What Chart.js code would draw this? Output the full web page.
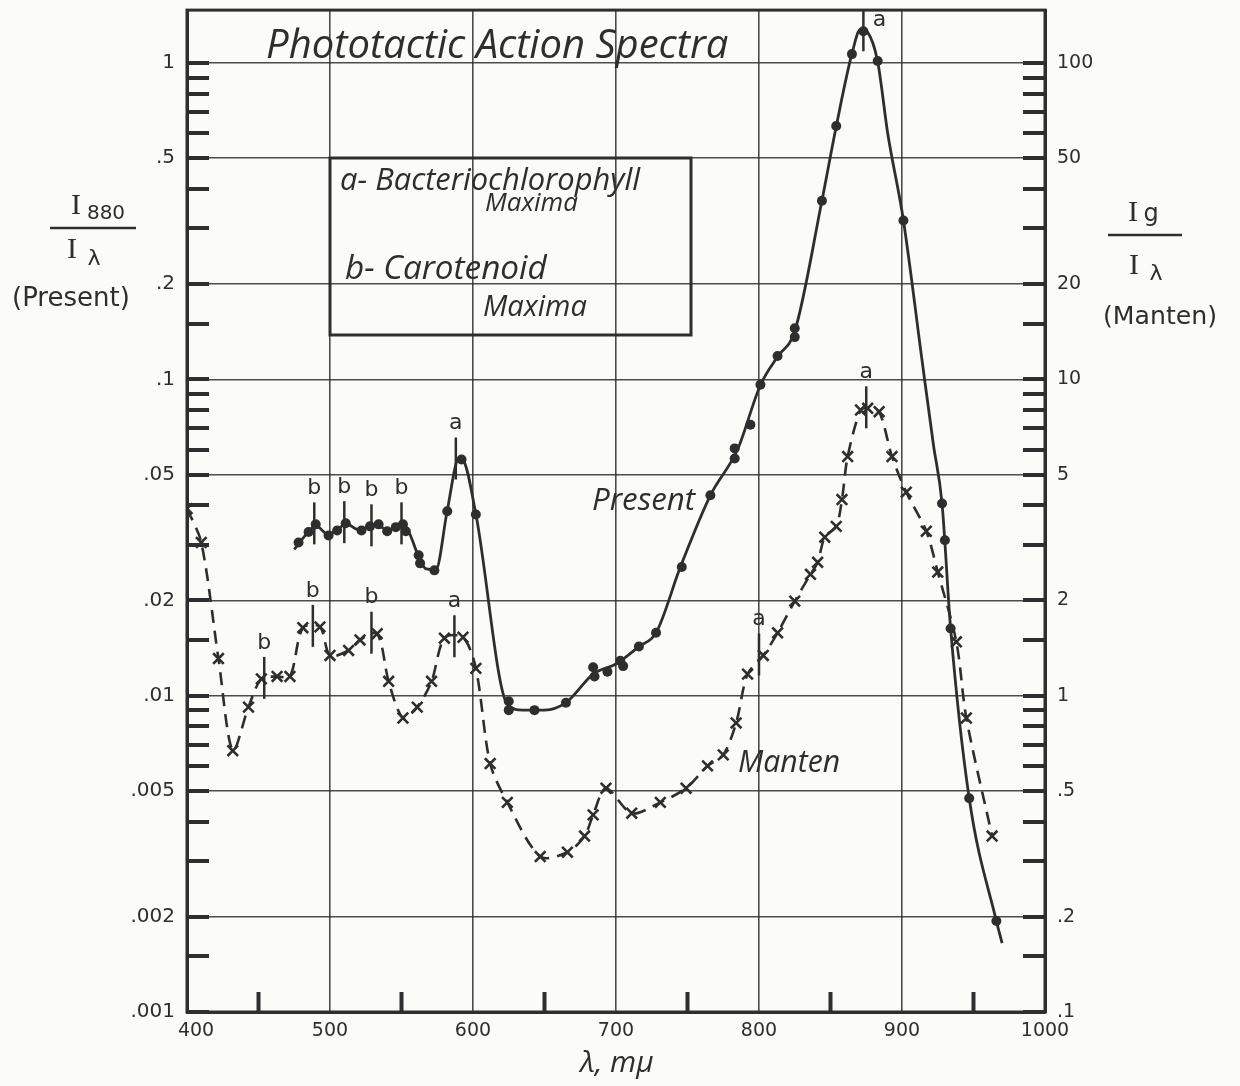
<!DOCTYPE html>
<html>
<head>
<meta charset="utf-8">
<script src="https://cdn.jsdelivr.net/npm/chart.js@4"></script>
<style>
  body { margin: 0; background: #fbfbf8; }
  #wrap { width: 1240px; height: 1086px; }
</style>
</head>
<body>
<div id="wrap"><canvas id="chart" width="1240" height="1086"></canvas></div>
<script>
// Present: measured points, I880 / I(lambda)
const presentWl = [478, 485, 490, 499, 505, 511, 522, 528, 534, 540, 546, 551, 553, 562, 563, 573, 582, 592, 602, 625,
  625, 643, 665, 684, 685, 694, 703, 705, 716, 728, 746, 766, 783, 783, 794, 801, 813, 825, 825, 844,
  854, 865, 873, 883, 901, 928, 930, 934, 947, 966];
const presentVal = [0.0305, 0.0329, 0.0348, 0.0321, 0.0333, 0.0351, 0.0333, 0.0343, 0.0348, 0.0331, 0.0341, 0.0348, 0.0331, 0.0278, 0.0262, 0.0249, 0.0383, 0.0558, 0.0374, 0.0096,
  0.0090, 0.0090, 0.0095, 0.0123, 0.0115, 0.0119, 0.0129, 0.0124, 0.0143, 0.0158, 0.0255, 0.0430, 0.0562, 0.0605, 0.0719, 0.0961, 0.1186, 0.136, 0.145, 0.367,
  0.632, 1.067, 1.26, 1.015, 0.318, 0.0405, 0.031, 0.0163, 0.00474, 0.00194];

// Present: the hand-drawn smooth curve
const presentCurveWl = [475, 485, 490, 498, 505, 511, 520, 528, 534, 540, 546, 551, 555, 562, 567, 574, 582, 590, 593, 602,
  624, 635, 650, 665, 684, 700, 716, 728, 745, 766, 785, 801, 813, 825, 844, 854, 865, 871, 876, 883,
  890, 901, 914, 922, 928, 934, 947, 966, 970];
const presentCurveVal = [0.029, 0.033, 0.0345, 0.0325, 0.0333, 0.035, 0.0335, 0.0343, 0.0345, 0.0333, 0.034, 0.0345, 0.033, 0.0275, 0.0252, 0.025, 0.0385, 0.056, 0.0555, 0.0375,
  0.0094, 0.009, 0.009, 0.0095, 0.0117, 0.0126, 0.0143, 0.0158, 0.0255, 0.043, 0.06, 0.096, 0.118, 0.142, 0.367, 0.63, 1.07, 1.28, 1.25, 1.01,
  0.60, 0.318, 0.115, 0.062, 0.0405, 0.0163, 0.00474, 0.00194, 0.00165];

// Manten: Ig / I(lambda), right-hand scale
const mantenWl = [400, 410, 422, 432, 443, 452, 463, 472, 481, 493, 500, 513, 521, 533, 541, 551, 561, 571, 580, 593,
  602, 612, 624, 647, 666, 678, 684, 693, 711, 731, 749, 764, 775, 784, 792, 803, 813, 825, 836, 841,
  846, 854, 858, 862, 871, 876, 884, 893, 903, 917, 925, 938, 945, 963];
const mantenVal = [3.9, 3.05, 1.31, 0.67, 0.92, 1.13, 1.15, 1.15, 1.64, 1.65, 1.34, 1.39, 1.50, 1.57, 1.11, 0.85, 0.92, 1.11, 1.52, 1.53,
  1.22, 0.61, 0.46, 0.31, 0.32, 0.36, 0.42, 0.51, 0.425, 0.46, 0.51, 0.60, 0.65, 0.82, 1.17, 1.34, 1.58, 1.99, 2.42, 2.64,
  3.17, 3.43, 4.17, 5.7, 8.0, 8.1, 7.9, 5.7, 4.4, 3.31, 2.46, 1.48, 0.85, 0.36];

// maxima marks (a = bacteriochlorophyll, b = carotenoid)
const presentMarkWl = [489, 510, 529, 550, 588, 873];
const presentMarkText = ['b', 'b', 'b', 'b', 'a', 'a'];
const mantenMarkWl = [454, 488, 529, 587, 800, 875];
const mantenMarkText = ['b', 'b', 'b', 'a', 'a', 'a'];

// axes
const xTickValues = [400, 500, 600, 700, 800, 900, 1000];
const xTickLabels = ['400', '500', '600', '700', '800', '900', '1000'];
const xMinorTicks = [450, 550, 650, 750, 850, 950];
const leftTickValues = [0.001, 0.002, 0.005, 0.01, 0.02, 0.05, 0.1, 0.2, 0.5, 1];
const leftTickLabels = ['.001', '.002', '.005', '.01', '.02', '.05', '.1', '.2', '.5', '1'];
const rightTickValues = [0.1, 0.2, 0.5, 1, 2, 5, 10, 20, 50, 100];
const rightTickLabels = ['.1', '.2', '.5', '1', '2', '5', '10', '20', '50', '100'];

const ink = '#2e2e2e';
const gridInk = 'rgba(45,45,45,0.85)';

// short inner ticks at 1, 1.5, 2 ... 9 of every decade
const minorY = [];
[0.001, 0.01, 0.1, 1].forEach(d => [1, 1.5, 2, 3, 4, 5, 6, 7, 8, 9].forEach(m => minorY.push(d * m)));

function fitText(ctx, text, x, y, w, family, style) {
  ctx.font = style + ' 100px ' + family;
  const size = 100 * w / ctx.measureText(text).width;
  ctx.font = style + ' ' + size.toFixed(1) + 'px ' + family;
  ctx.fillText(text, x, y);
}

function line(ctx, x1, y1, x2, y2) {
  ctx.beginPath(); ctx.moveTo(x1, y1); ctx.lineTo(x2, y2); ctx.stroke();
}

function noPad(s) {
  s.paddingTop = 0; s.paddingBottom = 0; s.paddingLeft = 0; s.paddingRight = 0;
}

const paper = {
  id: 'paper',
  beforeDraw(chart) {
    const ctx = chart.ctx;
    ctx.save();
    ctx.fillStyle = '#fbfbf8';
    ctx.fillRect(0, 0, chart.width, chart.height);
    ctx.restore();
  }
};

const decorations = {
  id: 'decorations',
  afterDraw(chart) {
    const ctx = chart.ctx;
    const { left, right, top, bottom } = chart.chartArea;
    const xs = chart.scales.x, ys = chart.scales.y;
    ctx.save();
    ctx.strokeStyle = ink;
    ctx.fillStyle = ink;

    // inner ticks
    ctx.lineWidth = 4;
    minorY.forEach(v => {
      if (v < ys.min || v > ys.max) return;
      const py = Math.round(ys.getPixelForValue(v));
      line(ctx, left, py, left + 22, py);
      line(ctx, right - 22, py, right, py);
    });
    xMinorTicks.forEach(v => {
      const px = xs.getPixelForValue(v);
      line(ctx, px, bottom, px, bottom - 20);
    });

    // frame
    ctx.lineWidth = 3;
    ctx.strokeRect(left, top, right - left, bottom - top);

    // maxima marks
    const marks = (dsIndex, wls, texts, srcWl) => {
      const meta = chart.getDatasetMeta(dsIndex);
      ctx.lineWidth = 2.5;
      ctx.font = '22px "DejaVu Sans"';
      ctx.textAlign = 'center';
      ctx.textBaseline = 'middle';
      wls.forEach((w, i) => {
        let best = 0;
        srcWl.forEach((s, j) => { if (Math.abs(s - w) < Math.abs(srcWl[best] - w)) best = j; });
        const py = meta.data[best].y;
        const px = xs.getPixelForValue(w);
        const y1 = Math.max(top, py - 22);
        line(ctx, px, y1, px, py + 20);
        if (py - 36 < top + 10) ctx.fillText(texts[i], px + 16, top + 10);
        else ctx.fillText(texts[i], px, py - 36);
      });
    };
    marks(1, presentMarkWl, presentMarkText, presentWl);
    marks(2, mantenMarkWl, mantenMarkText, mantenWl);

    // title
    ctx.textAlign = 'left';
    ctx.textBaseline = 'alphabetic';
    fitText(ctx, 'Phototactic Action Spectra', 266, 58, 462, '"Open Sans"', 'italic');

    // legend box
    ctx.lineWidth = 3;
    ctx.strokeRect(330, 158, 361, 177);
    fitText(ctx, 'a- Bacteriochlorophyll', 340, 190, 300, '"Open Sans"', 'italic');
    fitText(ctx, 'Maxima', 485, 211, 93, '"Open Sans"', 'italic');
    fitText(ctx, 'b- Carotenoid', 345, 279, 202, '"Open Sans"', 'italic');
    fitText(ctx, 'Maxima', 483, 316, 104, '"Open Sans"', 'italic');

    // series labels
    fitText(ctx, 'Present', 592, 510, 103, '"Open Sans"', 'italic');
    fitText(ctx, 'Manten', 738, 772, 102, '"Open Sans"', 'italic');

    // x axis title
    ctx.font = 'italic 30px "Open Sans"';
    ctx.textAlign = 'center';
    ctx.fillText('\u03bb, m\u03bc', 617, 1072);

    // left axis title
    ctx.font = '30px "Liberation Serif"';
    ctx.fillText('I', 76, 214);
    ctx.font = '20px "DejaVu Sans"';
    ctx.fillText('880', 106, 219);
    ctx.lineWidth = 2.5;
    line(ctx, 50, 228, 136, 228);
    ctx.font = '30px "Liberation Serif"';
    ctx.fillText('I', 72, 258);
    ctx.font = '22px "DejaVu Sans"';
    ctx.fillText('\u03bb', 94, 265);
    ctx.textAlign = 'left';
    fitText(ctx, '(Present)', 12, 306, 118, '"DejaVu Sans"', '');

    // right axis title
    ctx.textAlign = 'center';
    ctx.font = '30px "Liberation Serif"';
    ctx.fillText('I', 1133, 221);
    ctx.font = '24px "DejaVu Sans"';
    ctx.fillText('g', 1151, 221);
    line(ctx, 1108, 235, 1182, 235);
    ctx.font = '30px "Liberation Serif"';
    ctx.fillText('I', 1134, 274);
    ctx.font = '22px "DejaVu Sans"';
    ctx.fillText('\u03bb', 1156, 280);
    ctx.textAlign = 'left';
    fitText(ctx, '(Manten)', 1103, 324, 114, '"DejaVu Sans"', '');
    ctx.restore();
  }
};

const tickFont = { family: '"DejaVu Sans"', size: 19 };

new Chart(document.getElementById('chart'), {
  type: 'line',
  data: {
    datasets: [
      {
        label: 'Present curve',
        data: presentCurveWl.map((w, i) => ({ x: w, y: presentCurveVal[i] })),
        yAxisID: 'y',
        borderColor: ink,
        borderWidth: 2.8,
        pointRadius: 0,
        cubicInterpolationMode: 'monotone',
        fill: false
      },
      {
        label: 'Present',
        data: presentWl.map((w, i) => ({ x: w, y: presentVal[i] })),
        yAxisID: 'y',
        showLine: false,
        pointRadius: 5,
        pointBackgroundColor: ink,
        pointBorderColor: ink,
        pointBorderWidth: 0
      },
      {
        label: 'Manten',
        data: mantenWl.map((w, i) => ({ x: w, y: mantenVal[i] })),
        yAxisID: 'y2',
        borderColor: ink,
        borderWidth: 2.6,
        borderDash: [13, 8],
        tension: 0.3,
        pointStyle: 'crossRot',
        pointRadius: 7.5,
        pointBorderWidth: 2.6,
        pointBorderColor: ink,
        fill: false
      }
    ]
  },
  options: {
    responsive: false,
    animation: false,
    devicePixelRatio: 1,
    layout: { padding: { top: 7, left: 0, right: 0, bottom: 0 } },
    plugins: {
      legend: { display: false },
      tooltip: { enabled: false }
    },
    scales: {
      x: {
        type: 'linear',
        min: 400,
        max: 1000,
        afterBuildTicks: s => { s.ticks = xTickValues.map(v => ({ value: v })); },
        afterFit: s => { s.height = 74; noPad(s); },
        ticks: {
          autoSkip: false,
          maxRotation: 0,
          padding: 8,
          color: ink,
          font: tickFont,
          callback: v => {
            const i = xTickValues.indexOf(v);
            return i === 0 ? '   ' + xTickLabels[i] : xTickLabels[i];
          }
        },
        grid: { color: gridInk, lineWidth: 1.6, drawTicks: false },
        border: { display: true, color: ink, width: 3 }
      },
      y: {
        type: 'logarithmic',
        position: 'left',
        min: 0.001,
        max: 1.47,
        afterBuildTicks: s => { s.ticks = leftTickValues.map(v => ({ value: v })); },
        afterFit: s => { s.width = 187; noPad(s); },
        ticks: {
          autoSkip: false,
          padding: 12,
          color: ink,
          font: { family: '"DejaVu Sans"', size: 20 },
          callback: v => leftTickLabels[leftTickValues.indexOf(v)]
        },
        grid: { color: gridInk, lineWidth: 1.6, drawTicks: false },
        border: { display: true, color: ink, width: 3 }
      },
      y2: {
        type: 'logarithmic',
        position: 'right',
        min: 0.1,
        max: 147,
        afterBuildTicks: s => { s.ticks = rightTickValues.map(v => ({ value: v })); },
        afterFit: s => { s.width = 195; noPad(s); },
        ticks: {
          autoSkip: false,
          padding: 12,
          color: ink,
          font: tickFont,
          callback: v => rightTickLabels[rightTickValues.indexOf(v)]
        },
        grid: { display: false, drawTicks: false },
        border: { display: true, color: ink, width: 3 }
      }
    }
  },
  plugins: [paper, decorations]
});
</script>
</body>
</html>
